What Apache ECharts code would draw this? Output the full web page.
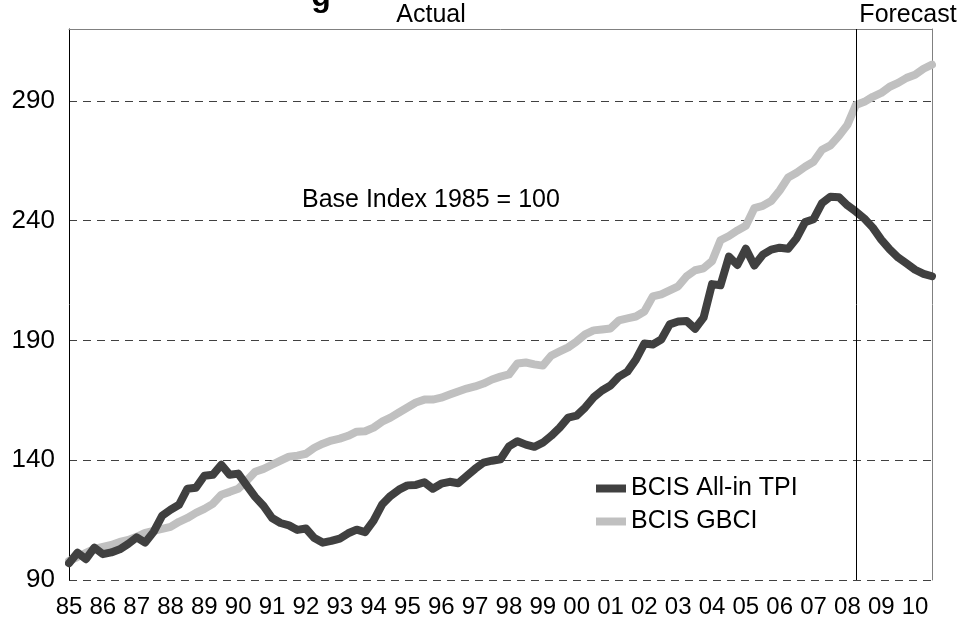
<!DOCTYPE html>
<html>
<head>
<meta charset="utf-8">
<script src="https://cdn.jsdelivr.net/npm/echarts@6/dist/echarts.min.js"></script>
<style>
  html, body { margin: 0; padding: 0; background: #fff; }
  #chartDom { width: 960px; height: 624px; }
</style>
</head>
<body>
<div id="chartDom"></div>
<script>
// quarterly index values, 1985 Q1 .. 2010 Q3
const yearLabels = ['85','86','87','88','89','90','91','92','93','94','95','96','97',
  '98','99','00','01','02','03','04','05','06','07','08','09','10'];
const quarterCount = 103;

const tpi = [
  97.0, 101.4, 98.7, 103.5, 100.8, 101.5, 102.8, 105.1, 107.8, 105.6,
  110.1, 116.8, 119.3, 121.4, 128.1, 128.5, 133.5, 133.9, 138.1, 133.9,
  134.4, 129.5, 124.7, 120.9, 115.9, 113.8, 112.8, 110.9, 111.5, 107.5,
  105.6, 106.3, 107.3, 109.5, 111.0, 110.0, 114.8, 121.5, 125.1, 127.7,
  129.5, 129.7, 130.8, 128.1, 130.2, 131.0, 130.4, 133.4, 136.4, 139.0,
  139.8, 140.4, 145.8, 147.9, 146.5, 145.6, 147.3, 150.2, 153.6, 157.8,
  158.6, 162.0, 166.2, 169.1, 171.2, 174.9, 177.0, 182.0, 188.7, 188.3,
  190.4, 196.7, 197.9, 198.1, 194.9, 199.5, 213.5, 213.0, 225.0, 221.5,
  228.3, 221.3, 225.8, 227.9, 228.7, 228.3, 232.7, 239.4, 240.6, 247.3,
  250.0, 249.8, 246.4, 243.8, 240.9, 237.1, 232.1, 228.0, 224.6, 222.1,
  219.5, 217.8, 216.8
];
const gbci = [
  98.0, 99.6, 101.3, 103.0, 103.8, 104.6, 105.9, 106.7, 108.0, 109.7,
  110.5, 111.3, 112.2, 114.3, 115.9, 118.0, 119.7, 121.8, 125.6, 126.8,
  128.1, 131.4, 135.2, 136.4, 138.1, 139.8, 141.5, 141.9, 142.7, 145.2,
  146.9, 148.2, 149.0, 150.2, 151.9, 152.1, 153.6, 156.1, 157.8, 159.9,
  162.0, 164.1, 165.3, 165.3, 166.1, 167.4, 168.7, 169.9, 170.8, 172.0,
  173.7, 174.9, 175.8, 180.4, 180.8, 180.0, 179.5, 183.7, 185.4, 187.1,
  189.6, 192.5, 194.2, 194.6, 195.0, 198.4, 199.2, 200.0, 202.1, 208.4,
  209.2, 210.9, 212.6, 216.8, 219.3, 220.1, 223.1, 231.8, 233.6, 235.9,
  237.9, 245.2, 246.2, 248.2, 252.6, 258.0, 260.0, 262.5, 264.6, 269.6,
  271.4, 275.4, 280.0, 288.3, 289.6, 291.7, 293.3, 295.9, 297.5, 299.6,
  300.9, 303.4, 305.1
];
// forecast starts between 2008 Q1 and Q2 (quarter index)
const forecastAt = 92.6;
const yMin = 90, yMax = 320, yStep = 50;

const categories = [];
for (let i = 0; i < quarterCount; i++) {
  categories.push(yearLabels[Math.floor(i / 4)] + ' Q' + (i % 4 + 1));
}

const font = 'Liberation Sans, Arial, sans-serif';
var chartDom = document.getElementById('chartDom');
var myChart = echarts.init(chartDom);
var option = {
  animation: false,
  textStyle: { fontFamily: font },
  grid: { left: 69, right: 28, top: 29, bottom: 44, containLabel: false },
  legend: {
    orient: 'vertical',
    left: 596,
    top: 476,
    padding: 0,
    icon: 'rect',
    itemWidth: 30,
    itemHeight: 8,
    itemGap: 8,
    data: ['BCIS All-in TPI', 'BCIS GBCI'],
    textStyle: { fontSize: 25, color: '#000', fontFamily: font }
  },
  xAxis: [
    {
      type: 'category',
      data: categories,
      boundaryGap: false,
      axisLine: { show: false },
      axisTick: { show: false },
      axisLabel: {
        interval: 3,
        margin: 15,
        fontSize: 24,
        color: '#000',
        fontFamily: font,
        formatter: (v) => v.slice(0, 2)
      },
      splitLine: { show: false }
    },
    {
      type: 'category',
      data: categories,
      boundaryGap: false,
      position: 'top',
      axisLine: { show: true, lineStyle: { color: '#808080', width: 1 } },
      axisTick: { show: false },
      axisLabel: { show: false }
    }
  ],
  yAxis: [
    {
      type: 'value',
      min: yMin,
      max: yMax,
      interval: yStep,
      axisLine: { show: true, lineStyle: { color: '#000', width: 1 } },
      axisTick: { show: false },
      axisLabel: {
        margin: 14,
        fontSize: 26,
        color: '#000',
        fontFamily: font,
        formatter: (v) => (v === yMax ? '' : String(v))
      },
      splitLine: { show: true, lineStyle: { color: '#404040', type: [8, 6], width: 1 } }
    },
    {
      type: 'value',
      min: yMin,
      max: yMax,
      interval: yStep,
      position: 'right',
      axisLine: { show: true, lineStyle: { color: '#808080', width: 1 } },
      axisTick: { show: false },
      axisLabel: { show: false },
      splitLine: { show: false }
    }
  ],
  series: [
    {
      name: 'BCIS GBCI',
      type: 'line',
      data: gbci,
      symbol: 'none',
      color: '#c0c0c0',
      lineStyle: { color: '#c0c0c0', width: 8, join: 'round', cap: 'round' },
      z: 3
    },
    {
      name: 'BCIS All-in TPI',
      type: 'line',
      data: tpi,
      symbol: 'none',
      color: '#404040',
      lineStyle: { color: '#404040', width: 8, join: 'round', cap: 'round' },
      z: 4,
      markLine: {
        silent: true,
        symbol: 'none',
        label: { show: false },
        lineStyle: { color: '#000', type: 'solid', width: 1 },
        data: [{ xAxis: forecastAt }]
      }
    }
  ],
  graphic: [
    {
      // bottom of the title, which sits above the visible area
      type: 'text', x: 321, y: -3,
      style: { text: 'g', fill: '#000', font: 'bold 32px ' + font, textAlign: 'center', textVerticalAlign: 'middle' }
    },
    {
      type: 'text', x: 431, y: 15,
      style: { text: 'Actual', fill: '#000', font: '25px ' + font, textAlign: 'center', textVerticalAlign: 'middle' }
    },
    {
      type: 'text', x: 908, y: 15,
      style: { text: 'Forecast', fill: '#000', font: '25px ' + font, textAlign: 'center', textVerticalAlign: 'middle' }
    },
    {
      type: 'text', x: 302, y: 200,
      style: { text: 'Base Index 1985 = 100', fill: '#000', font: '25px ' + font, textAlign: 'left', textVerticalAlign: 'middle' }
    }
  ]
};
option && myChart.setOption(option);
</script>
</body>
</html>
